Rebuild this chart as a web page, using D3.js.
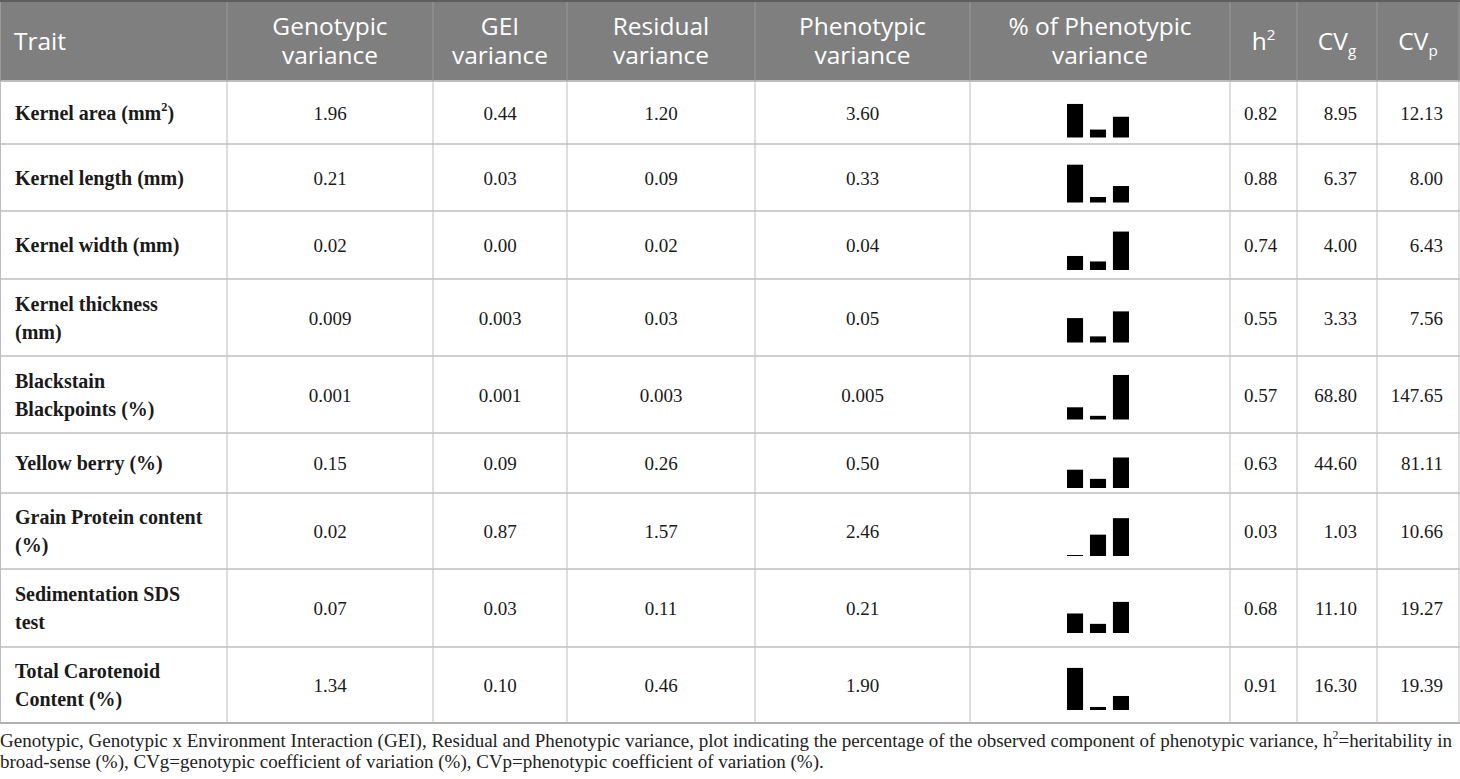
<!DOCTYPE html>
<html>
<head>
<meta charset="utf-8">
<script src="https://cdn.jsdelivr.net/npm/d3@7"></script>
<style>
  body { margin: 0; background: #fff; }
</style>
</head>
<body>
<svg id="tbl" width="1460" height="779"></svg>
<script>
// table content
const headers = [["Trait"], ["Genotypic", "variance"], ["GEI", "variance"], ["Residual", "variance"],
  ["Phenotypic", "variance"], ["% of Phenotypic", "variance"], ["h^2"], ["CV_g"], ["CV_p"]];

const traits = [["Kernel area (mm^2)"], ["Kernel length (mm)"], ["Kernel width (mm)"],
  ["Kernel thickness", "(mm)"], ["Blackstain", "Blackpoints (%)"], ["Yellow berry (%)"],
  ["Grain Protein content", "(%)"], ["Sedimentation SDS", "test"], ["Total Carotenoid", "Content (%)"]];

const genotypicVar  = ["1.96", "0.21", "0.02", "0.009", "0.001", "0.15", "0.02", "0.07", "1.34"];
const geiVar        = ["0.44", "0.03", "0.00", "0.003", "0.001", "0.09", "0.87", "0.03", "0.10"];
const residualVar   = ["1.20", "0.09", "0.02", "0.03", "0.003", "0.26", "1.57", "0.11", "0.46"];
const phenotypicVar = ["3.60", "0.33", "0.04", "0.05", "0.005", "0.50", "2.46", "0.21", "1.90"];
const heritability  = ["0.82", "0.88", "0.74", "0.55", "0.57", "0.63", "0.03", "0.68", "0.91"];
const cvGenotypic   = ["8.95", "6.37", "4.00", "3.33", "68.80", "44.60", "1.03", "11.10", "16.30"];
const cvPhenotypic  = ["12.13", "8.00", "6.43", "7.56", "147.65", "81.11", "10.66", "19.27", "19.39"];

// % of phenotypic variance shown by the small bars
const components = ["Genotypic", "GEI", "Residual"];
const pctGenotypic = [55, 62, 23, 40, 20, 30, 1, 32, 69];
const pctGEI       = [13, 9, 14, 10, 6, 15, 35, 15, 5];
const pctResidual  = [34, 27, 63, 51, 73, 50, 62, 51, 23];

const footnote = [
  "Genotypic, Genotypic x Environment Interaction (GEI), Residual and Phenotypic variance, plot indicating the percentage of the observed component of phenotypic variance, h^2=heritability in",
  "broad-sense (%), CVg=genotypic coefficient of variation (%), CVp=phenotypic coefficient of variation (%)."
];

// layout
const colEdges = [0, 227, 433, 567, 755, 970, 1230, 1297, 1377, 1459];
const headerH = 81;
const rowHeights = [63, 67, 68, 77, 77, 60, 76, 78, 76];
const rowTops = [];
rowHeights.reduce((acc, h) => { rowTops.push(acc); return acc + h; }, headerH);
const tableBottom = headerH + d3.sum(rowHeights);

const svg = d3.select("#tbl");
const serif = "'Liberation Serif', 'Times New Roman', serif";
const sans = "'Open Sans', 'Noto Sans', sans-serif";

// text with ^x superscript and _x subscript
function rich(text, str, fs) {
  const parts = str.split(/([\^_].)/).filter(p => p);
  let shift = 0;
  parts.forEach(p => {
    let target = 0, size = fs, s = p;
    if (p[0] === "^") { target = -fs * 0.42; size = fs * 0.62; s = p[1]; }
    else if (p[0] === "_") { target = fs * 0.25; size = fs * 0.62; s = p[1]; }
    text.append("tspan")
      .attr("dy", target - shift)
      .attr("font-size", size)
      .text(s);
    shift = target;
  });
}

// header band
svg.append("rect").attr("x", 0).attr("y", 0).attr("width", 1460).attr("height", headerH).attr("fill", "#7f7f7f");
svg.append("rect").attr("x", 0).attr("y", 0).attr("width", 1460).attr("height", 2).attr("fill", "#5e5e5e");

headers.forEach((lines, i) => {
  const x0 = colEdges[i], x1 = colEdges[i + 1];
  const left = i === 0;
  lines.forEach((ln, j) => {
    const y = lines.length === 1 ? 50 : 35 + j * 29;
    const t = svg.append("text")
      .attr("x", left ? x0 + 14 : (x0 + x1) / 2)
      .attr("y", y)
      .attr("text-anchor", left ? "start" : "middle")
      .attr("font-family", sans)
      .attr("font-size", 24.5)
      .attr("fill", "#fff");
    rich(t, ln, 24.5);
  });
});

// grid lines
const grid = svg.append("g");
rowTops.slice(1).forEach(y => {
  grid.append("line").attr("x1", 0).attr("x2", 1460).attr("y1", y).attr("y2", y)
    .attr("stroke", "#cfcfcf").attr("stroke-width", 2);
});
grid.append("line").attr("x1", 0).attr("x2", 1460).attr("y1", headerH).attr("y2", headerH)
  .attr("stroke", "#bdbdbd").attr("stroke-width", 2);
grid.append("line").attr("x1", 0).attr("x2", 1460).attr("y1", tableBottom).attr("y2", tableBottom)
  .attr("stroke", "#b0b0b0").attr("stroke-width", 2);
colEdges.forEach(x => {
  const xx = Math.min(Math.max(x, 0.5), 1459.5);
  grid.append("line").attr("x1", xx).attr("x2", xx).attr("y1", 2).attr("y2", headerH)
    .attr("stroke", "#9a9a9a").attr("stroke-width", 1);
  grid.append("line").attr("x1", xx).attr("x2", xx).attr("y1", headerH).attr("y2", tableBottom)
    .attr("stroke", "#bdbdbd").attr("stroke-width", 1);
});

// body rows
const centred = [genotypicVar, geiVar, residualVar, phenotypicVar];
traits.forEach((lines, r) => {
  const mid = rowTops[r] + rowHeights[r] / 2;
  lines.forEach((ln, j) => {
    const y = mid + 7 + (j - (lines.length - 1) / 2) * 28;
    const t = svg.append("text")
      .attr("x", 15).attr("y", y)
      .attr("font-family", serif).attr("font-size", 20)
      .attr("font-weight", "bold").attr("fill", "#1a1a1a");
    rich(t, ln, 20);
  });
  centred.forEach((col, c) => {
    svg.append("text")
      .attr("x", (colEdges[c + 1] + colEdges[c + 2]) / 2).attr("y", mid + 7)
      .attr("text-anchor", "middle")
      .attr("font-family", serif).attr("font-size", 19).attr("fill", "#1a1a1a")
      .text(col[r]);
  });
  svg.append("text")
    .attr("x", (colEdges[6] + colEdges[7]) / 2 - 3).attr("y", mid + 7)
    .attr("text-anchor", "middle")
    .attr("font-family", serif).attr("font-size", 19).attr("fill", "#1a1a1a")
    .text(heritability[r]);
  svg.append("text")
    .attr("x", colEdges[8] - 20).attr("y", mid + 7)
    .attr("text-anchor", "end")
    .attr("font-family", serif).attr("font-size", 19).attr("fill", "#1a1a1a")
    .text(cvGenotypic[r]);
  svg.append("text")
    .attr("x", colEdges[9] - 16).attr("y", mid + 7)
    .attr("text-anchor", "end")
    .attr("font-family", serif).attr("font-size", 19).attr("fill", "#1a1a1a")
    .text(cvPhenotypic[r]);
});

// mini bar charts: % of phenotypic variance
const x = d3.scaleBand()
  .domain(components)
  .range([1067, 1129])
  .paddingInner(0.3);

const y = d3.scaleLinear()
  .domain([0, 100])
  .range([0, 61]);

const barData = traits.map((t, r) => components.map((k, i) => ({
  key: k,
  value: [pctGenotypic, pctGEI, pctResidual][i][r],
  base: rowTops[r] + rowHeights[r] / 2 + 25
})));

svg.append("g")
  .selectAll("g")
  .data(barData)
  .enter().append("g")
  .selectAll("rect")
  .data(d => d)
  .enter().append("rect")
    .attr("x", d => x(d.key))
    .attr("y", d => d.base - Math.max(y(d.value), 1))
    .attr("width", x.bandwidth())
    .attr("height", d => Math.max(y(d.value), 1))
    .attr("fill", "#000");

// footnote
footnote.forEach((ln, i) => {
  const t = svg.append("text")
    .attr("x", 0).attr("y", 747 + i * 21)
    .attr("font-family", serif).attr("font-size", 19).attr("fill", "#222");
  rich(t, ln, 19);
  if (i === 0) t.attr("textLength", 1452).attr("lengthAdjust", "spacing");
});
</script>
</body>
</html>
